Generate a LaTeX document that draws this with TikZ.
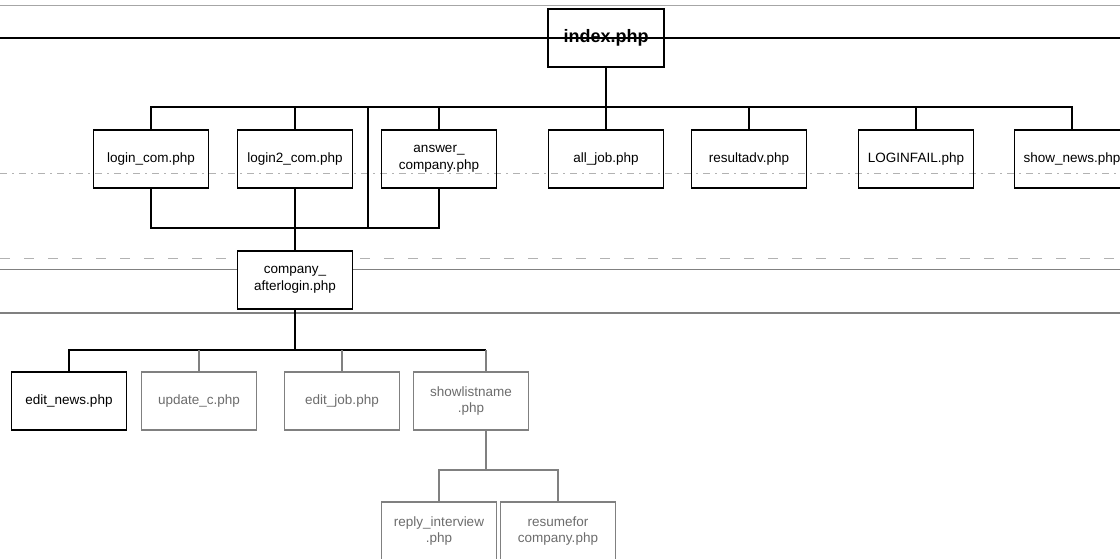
\documentclass[tikz,border=0pt]{standalone}
\usepackage{fontspec}
\setmainfont{Liberation Sans}
\usepackage{tikz}

\begin{document}
\begin{tikzpicture}[
        x=1pt, y=-1pt,
        file/.style={draw,line width=1.8pt,minimum width=115pt,minimum height=58pt,
          align=center,inner sep=2pt,font=\fontsize{13.5}{16.5}\selectfont},
        faded/.style={file,draw=gray,text=gray!85!black,line width=1.3pt},
        link/.style={line width=1.5pt},
        fadedlink/.style={line width=1.1pt,draw=gray},
        rule/.style={line width=0.8pt,draw=gray}
      ]
      \path[use as bounding box,clip] (0,0) rectangle (1120,559);
      % rules of the scanned page
      \draw[rule,draw=gray!70] (0,5) -- (1120,5);
      \draw[rule,draw=black,line width=1.4pt] (0,38) -- (1120,38);
      \draw[rule,draw=gray!60,dash pattern=on 7pt off 5pt on 2pt off 5pt] (0,173) -- (1120,173);
      \draw[rule,draw=gray!60,dash pattern=on 10pt off 14pt] (0,258) -- (1120,258);
      \draw[rule] (0,269) -- (1120,269);
      \draw[rule,line width=1.2pt] (0,313) -- (1120,313);

      % Root node
      \node[file,font=\bfseries\fontsize{18}{20}\selectfont,minimum width=116pt] (index) at (606,38) {index.php};

      % first level
      \node[file] (logincom) at (151,159) {login\_com.php};
      \node[file] (logintwo) at (295,159) {login2\_com.php};
      \node[file] (answer) at (439,159) {answer\_\\company.php};
      \node[file] (alljob) at (606,159) {all\_job.php};
      \node[file] (resultadv) at (749,159) {resultadv.php};
      \node[file] (loginfail) at (916,159) {LOGINFAIL.php};
      \node[file] (shownews) at (1072,159) {show\_news.php};

      % after login
      \node[file,fill=white] (afterlogin) at (295,280) {company\_\\afterlogin.php};

      \node[file] (editnews) at (69,401) {edit\_news.php};
      \node[faded] (updatec) at (199,401) {update\_c.php};
      \node[faded] (editjob) at (342,401) {edit\_job.php};
      \node[faded] (showlist) at (471,401) {showlistname\\.php};

      \node[faded] (reply) at (439,531) {reply\_interview\\.php};
      \node[faded] (resume) at (558,531) {resumefor\\company.php};

      % buses
      \coordinate (busa) at (0,107);
      \coordinate (busb) at (0,228);
      \coordinate (busc) at (0,350);
      \coordinate (busd) at (0,470);
      \coordinate (jump) at (368,107);
      \coordinate (slin) at ([xshift=15pt]showlist.north);
      \coordinate (slout) at ([xshift=15pt]showlist.south);

      \draw[link] (index.south) -- (index.south |- busa);
      \draw[link] (logincom.north) -- (logincom.north |- busa) -- (shownews.north |- busa) -- (shownews.north);
      \foreach \n in {logintwo,answer,alljob,resultadv,loginfail}
        \draw[link] (\n.north) -- (\n.north |- busa);

      \draw[link] (logincom.south) -- (logincom.south |- busb) -- (answer.south |- busb) -- (answer.south);
      \draw[link] (logintwo.south) -- (afterlogin.north);
      \draw[link] (jump) -- (jump |- busb);

      \draw[link] (afterlogin.south) -- (afterlogin.south |- busc);
      \draw[link] (editnews.north) -- (editnews.north |- busc) -- (slin |- busc);
      \foreach \n in {updatec,editjob}
        \draw[fadedlink] (\n.north) -- (\n.north |- busc);
      \draw[fadedlink] (slin) -- (slin |- busc);

      \draw[fadedlink] (slout) -- (slout |- busd);
      \draw[fadedlink] (reply.north) -- (reply.north |- busd) -- (resume.north |- busd) -- (resume.north);
    \end{tikzpicture}
\end{document}
